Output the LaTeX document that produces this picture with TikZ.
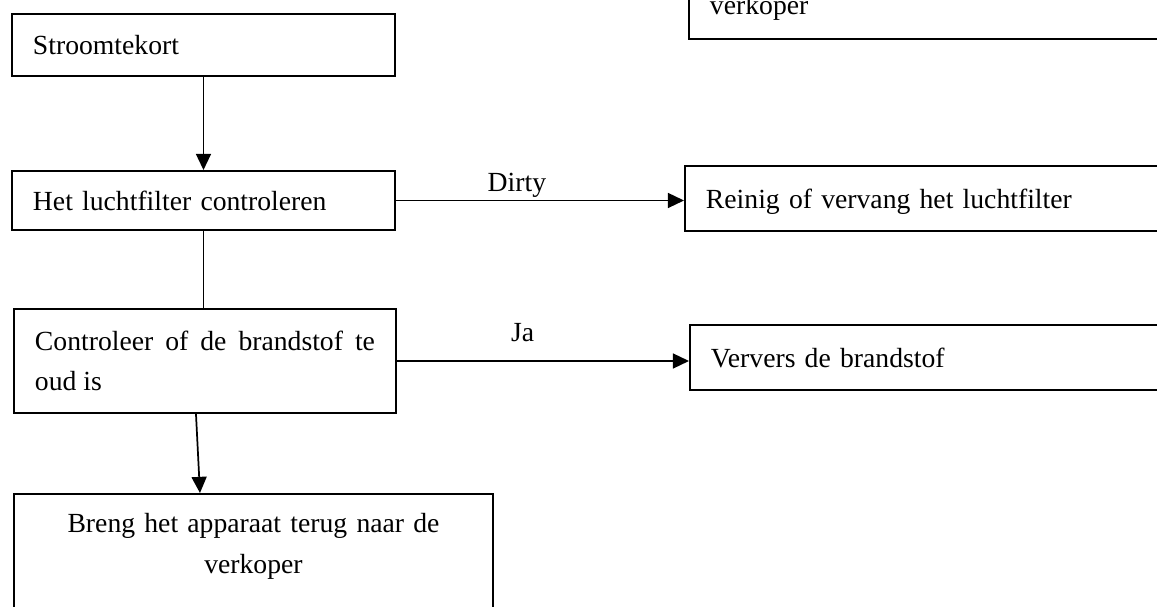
\documentclass[tikz,border=0pt]{standalone}
\usepackage{fontspec}
\setmainfont{Liberation Serif}
\usepackage{tikz}
\usetikzlibrary{arrows.meta,positioning,calc}
\newcommand{\pxu}{0.4336pt}
\tolerance=9999
\hyphenpenalty=10000

\begin{document}
\begin{tikzpicture}[x=0.4336pt,y=-0.4336pt,
  font={\fontsize{12pt}{17.5pt}\selectfont},
  box/.style={draw,line width=0.85pt,anchor=north west,align=left,inner xsep=21*\pxu,inner ysep=0pt},
  arr/.style={-{Triangle[length=7pt,width=6.5pt]},line width=0.75pt},
  lab/.style={inner sep=1pt}]
\useasboundingbox (0,0) rectangle (1157,606);
% ---------- top right box, cut off by the page ----------
\node[box,anchor=south west,text width=438*\pxu,minimum height=62*\pxu] (seller0) at (688,40) {verkoper};
% ---------- left column ----------
\node[box,text width=341*\pxu,minimum height=62*\pxu] (short) at (11,13) {Stroomtekort};
\node[box,text width=341*\pxu,minimum height=59*\pxu] (filter) at (11,170) {Het luchtfilter controleren};
\node[box,align=justify,text width=340*\pxu,minimum height=104*\pxu] (fuel) at (13,308) {Controleer of de brandstof te oud is};
\node[box,align=center,text width=437*\pxu,text height=39*\pxu,text depth=88*\pxu] (seller) at (13,493) {Breng het apparaat terug naar de\\verkoper};
% ---------- right column ----------
\node[box,text width=438*\pxu,minimum height=65*\pxu,text depth=0pt] (clean) at (684,165) {Reinig of vervang het luchtfilter};
\node[box,text width=438*\pxu,minimum height=65*\pxu] (refill) at (689,324) {Ververs de brandstof};
% ---------- connectors ----------
\draw[arr] (short.south) -- (filter.north);
\draw[arr] (filter.east) -- node[lab,above,pos=0.42]{Dirty} (filter.east -| clean.west);
\draw[line width=0.75pt] (filter.south) -- (filter.south |- fuel.north);
\draw[arr] (fuel.east) -- node[lab,above=6.8pt,pos=0.43]{Ja} (fuel.east -| refill.west);
\draw[arr] ($(fuel.south)+(-9,0)$) -- ($(seller.north)+(-53.5,0)$);
\end{tikzpicture}
\end{document}
